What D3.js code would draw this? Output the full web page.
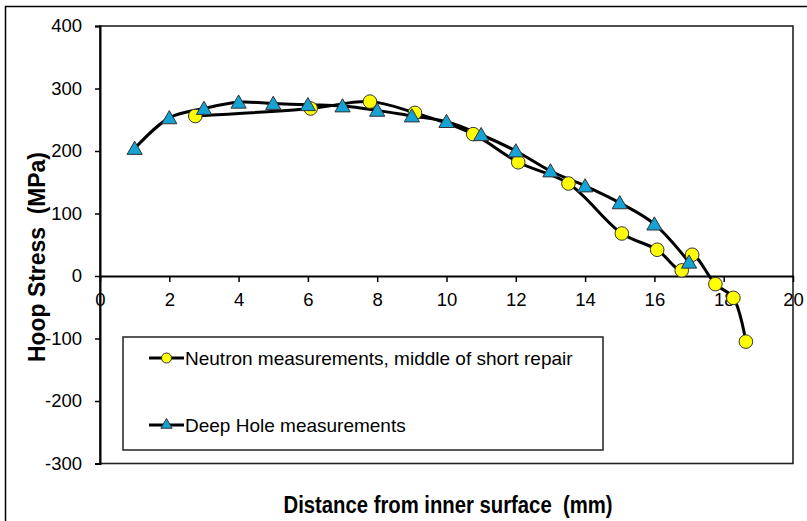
<!DOCTYPE html>
<html>
<head>
<meta charset="utf-8">
<script src="https://cdn.jsdelivr.net/npm/d3@7"></script>
<style>
  html, body { margin: 0; padding: 0; background: #fff; }
  svg { display: block; }
  text { font-family: "Liberation Sans", Arial, sans-serif; white-space: pre; }
</style>
</head>
<body>
<svg id="chart" width="807" height="521"></svg>
<script>
// ---- data ----
const neutronX = [2.75, 6.08, 7.79, 9.09, 10.77, 12.07, 13.52, 15.06, 16.08, 16.79, 17.09, 17.76, 18.28, 18.64];
const neutronY = [256, 268, 279, 261, 227, 182, 148, 68, 42, 9, 34, -13, -35, -105];
const deepX = [1, 2, 3, 4, 5, 6, 7, 8, 9, 10, 11, 12, 13, 14, 15, 16, 17];
const deepY = [204, 253, 268, 278, 276, 274, 272, 265, 256, 247, 226, 200, 168, 144, 117, 83, 22];
const xTicks = [0, 2, 4, 6, 8, 10, 12, 14, 16, 18, 20];
const yTicks = [-300, -200, -100, 0, 100, 200, 300, 400];
const seriesNames = ["Neutron measurements, middle of short repair", "Deep Hole measurements"];
const xTitle = "Distance from inner surface  (mm)";
const yTitle = "Hoop Stress  (MPa)";

// ---- layout ----
const svg = d3.select("#chart");
const L = 100, R = 793, T = 26, B = 463.5;
const x = d3.scaleLinear().domain([0, 20]).range([L, R]);
const y = d3.scaleLinear().domain([-300, 400]).range([B, T]);
const fmt = d => String(d);

// outer chart border
svg.append("rect").attr("x", 5.5).attr("y", 6.5).attr("width", 900).attr("height", 700)
  .attr("fill", "none").attr("stroke", "#000").attr("stroke-width", 1.5);

// plot area border
svg.append("rect").attr("x", L).attr("y", T).attr("width", R - L).attr("height", B - T)
  .attr("fill", "#fff").attr("stroke", "#222").attr("stroke-width", 1.6);

// y axis
const yAxis = svg.append("g").attr("transform", `translate(${L},0)`)
  .call(d3.axisLeft(y).tickValues(yTicks).tickSize(5).tickPadding(13).tickFormat(fmt));
yAxis.select(".domain").attr("stroke", "#000").attr("stroke-width", 2);
yAxis.selectAll(".tick line").attr("stroke", "#000").attr("stroke-width", 1.5);
yAxis.selectAll("text").attr("font-size", 18.5).attr("fill", "#000")
  .style("font-family", '"Liberation Sans", Arial, sans-serif');

// x axis at y = 0
const xAxis = svg.append("g").attr("transform", `translate(0,${y(0)})`)
  .call(d3.axisBottom(x).tickValues(xTicks).tickSize(6).tickPadding(11).tickSizeOuter(0).tickFormat(fmt));
xAxis.select(".domain").attr("stroke", "#000").attr("stroke-width", 2);
xAxis.selectAll(".tick line").attr("stroke", "#000").attr("stroke-width", 1.5);
xAxis.selectAll("text").attr("font-size", 18.5).attr("fill", "#000")
  .style("font-family", '"Liberation Sans", Arial, sans-serif');

// series
const neutron = neutronX.map((v, i) => [v, neutronY[i]]);
const deep = deepX.map((v, i) => [v, deepY[i]]);
const line = d3.line().x(d => x(d[0])).y(d => y(d[1])).curve(d3.curveCatmullRom.alpha(0.5));

svg.append("path").datum(neutron).attr("d", line)
  .attr("fill", "none").attr("stroke", "#000").attr("stroke-width", 3);
svg.append("path").datum(deep).attr("d", line)
  .attr("fill", "none").attr("stroke", "#000").attr("stroke-width", 3);

const circleColor = "#ffff00";
const triColor = "#14a3d4";
const triSym = d3.symbol().type(d3.symbolTriangle).size(100);

svg.append("g").selectAll("circle").data(neutron).join("circle")
  .attr("cx", d => x(d[0])).attr("cy", d => y(d[1])).attr("r", 6.8)
  .attr("fill", circleColor).attr("stroke", "#333").attr("stroke-width", 1);

svg.append("g").selectAll("path").data(deep).join("path")
  .attr("d", triSym)
  .attr("transform", d => `translate(${x(d[0])},${y(d[1]) + 1.5})`)
  .attr("fill", triColor).attr("stroke", "#333").attr("stroke-width", 1);

// legend
const lg = svg.append("g");
lg.append("rect").attr("x", 123).attr("y", 337).attr("width", 480).attr("height", 113)
  .attr("fill", "#fff").attr("stroke", "#222").attr("stroke-width", 1.5);
const legendY = [358, 425];
seriesNames.forEach((name, i) => {
  const cy = legendY[i];
  lg.append("line").attr("x1", 149).attr("x2", 184).attr("y1", cy).attr("y2", cy)
    .attr("stroke", "#000").attr("stroke-width", 3);
  if (i === 0) {
    lg.append("circle").attr("cx", 166.5).attr("cy", cy).attr("r", 5)
      .attr("fill", circleColor).attr("stroke", "#333").attr("stroke-width", 1);
  } else {
    lg.append("path").attr("d", d3.symbol().type(d3.symbolTriangle).size(55))
      .attr("transform", `translate(166.5,${cy})`)
      .attr("fill", triColor).attr("stroke", "#333").attr("stroke-width", 1);
  }
  lg.append("text").attr("x", 185).attr("y", cy).attr("dy", "0.35em")
    .attr("font-size", 19).attr("fill", "#000").text(name);
});

// axis titles
svg.append("text").attr("x", 448).attr("y", 512.5).attr("text-anchor", "middle")
  .attr("font-size", 23).attr("font-weight", "bold").attr("fill", "#000")
  .attr("textLength", 329).attr("lengthAdjust", "spacingAndGlyphs").text(xTitle);
svg.append("text").attr("transform", "translate(45,257) rotate(-90)").attr("text-anchor", "middle")
  .attr("font-size", 23).attr("font-weight", "bold").attr("fill", "#000")
  .attr("textLength", 210).attr("lengthAdjust", "spacingAndGlyphs").text(yTitle);
</script>
</body>
</html>
